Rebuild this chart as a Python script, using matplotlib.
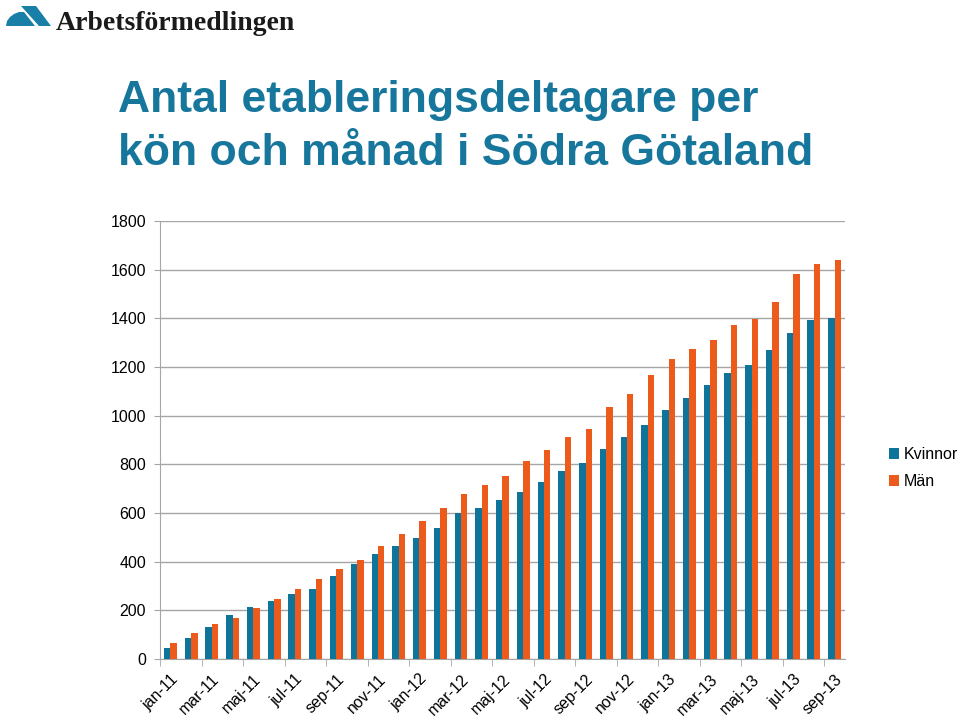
import matplotlib as mpl
import matplotlib.pyplot as plt
import numpy as np
from matplotlib.patches import Polygon

mpl.rcParams.update({
    "font.family": ["Liberation Sans", "DejaVu Sans"],
})

months = ["jan-11", "feb-11", "mar-11", "apr-11", "maj-11", "jun-11", "jul-11",
          "aug-11", "sep-11", "okt-11", "nov-11", "dec-11",
          "jan-12", "feb-12", "mar-12", "apr-12", "maj-12", "jun-12", "jul-12",
          "aug-12", "sep-12", "okt-12", "nov-12", "dec-12",
          "jan-13", "feb-13", "mar-13", "apr-13", "maj-13", "jun-13", "jul-13",
          "aug-13", "sep-13"]
kvinnor = [47, 85, 132, 179, 214, 238, 266, 289, 342, 390, 433, 466,
           499, 537, 601, 622, 653, 685, 729, 773, 804, 864, 911, 962,
           1022, 1071, 1125, 1177, 1208, 1269, 1340, 1392, 1403]
man = [66, 105, 142, 170, 211, 245, 289, 327, 371, 405, 466, 514,
       567, 621, 680, 714, 751, 814, 859, 911, 947, 1034, 1089, 1167,
       1233, 1274, 1310, 1373, 1397, 1469, 1581, 1625, 1638]
yticks = [0, 200, 400, 600, 800, 1000, 1200, 1400, 1600, 1800]

C_K = "#0E7499"
C_M = "#EC5A1C"
TITLE_C = "#17769C"
LOGO_C = "#1A7FA6"
GRID_C = "#A6A6A6"
W, H = 960, 716

fig = plt.figure(figsize=(9.6, 7.16), dpi=100)


def px(pts):
    # pixel coords (from top-left) -> figure fraction
    return [(a / W, 1 - b / H) for a, b in pts]


# logo mark
fig.patches.append(Polygon(
    px([(6, 26), (7, 21), (10, 17), (14, 14), (19, 12), (24, 12), (35, 26)]),
    closed=True, transform=fig.transFigure, facecolor=LOGO_C, edgecolor="none"))
fig.patches.append(Polygon(
    px([(21, 6), (36, 6), (51, 26), (39, 26)]),
    closed=True, transform=fig.transFigure, facecolor=LOGO_C, edgecolor="none"))
fig.text(56 / W, 1 - 30 / H, "Arbetsförmedlingen",
         family=["Liberation Serif", "DejaVu Serif"],
         fontsize=20, fontweight="bold", color="#1a1a1a", ha="left", va="baseline")

fig.text(118 / W, 1 - 112 / H, "Antal etableringsdeltagare per",
         fontsize=32, fontweight="bold", color=TITLE_C, ha="left", va="baseline")
fig.text(118 / W, 1 - 165 / H, "kön och månad i Södra Götaland",
         fontsize=32, fontweight="bold", color=TITLE_C, ha="left", va="baseline")

ax = fig.add_axes([160 / W, 57 / H, 685 / W, 438 / H])
x = np.arange(len(months))
w = 0.31
ax.bar(x - w / 2, kvinnor, width=w, color=C_K, label="Kvinnor", zorder=3)
ax.bar(x + w / 2, man, width=w, color=C_M, label="Män", zorder=3)

ax.set_xlim(-0.5, len(months) - 0.5)
ax.set_ylim(0, 1800)
ax.set_yticks(yticks)
ax.set_yticklabels([str(v) for v in yticks], fontsize=11.5)
ax.grid(axis="y", color=GRID_C, linewidth=1.0, zorder=0)
ax.tick_params(axis="y", length=4, color=GRID_C, pad=6)

ax.set_xticks(x[::2])
ax.set_xticklabels(months[::2], rotation=45, ha="right", rotation_mode="anchor",
                   fontsize=11.5)
ax.tick_params(axis="x", which="major", length=0, pad=9)
ax.set_xticks(np.arange(-0.5, len(months), 2), minor=True)
ax.tick_params(axis="x", which="minor", length=5, color=GRID_C)

for s in ["top", "right"]:
    ax.spines[s].set_visible(False)
ax.spines["left"].set_color(GRID_C)
ax.spines["bottom"].set_color(GRID_C)

ax.legend(loc="upper left", bbox_to_anchor=(1.055, 0.498), frameon=False,
          fontsize=11.5, handlelength=0.65, handleheight=0.65, handletextpad=0.3,
          labelspacing=0.75, borderaxespad=0)

fig.savefig("out.png", dpi=100)
